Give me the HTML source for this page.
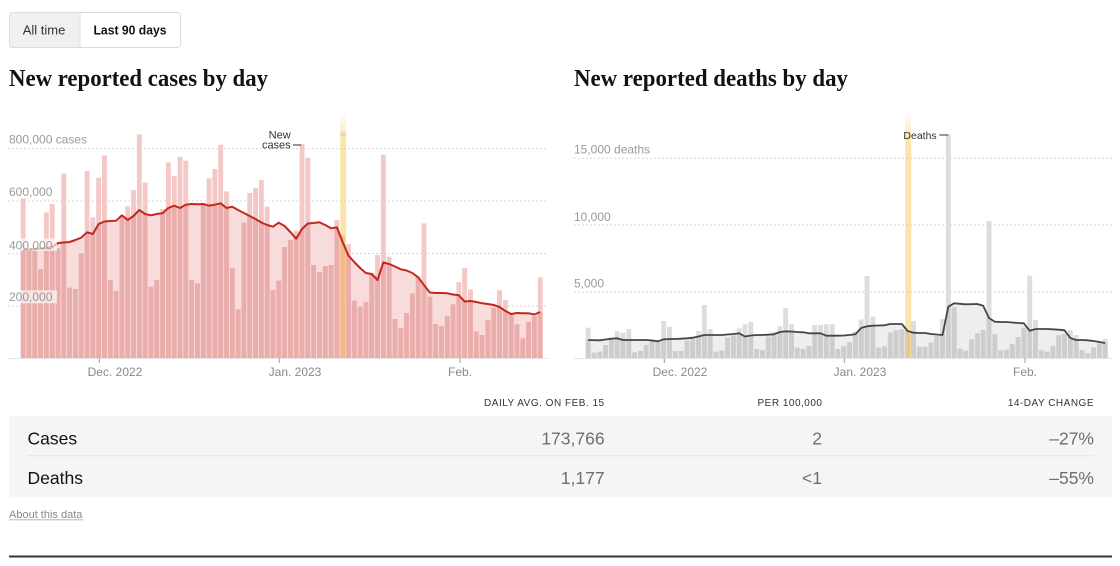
<!DOCTYPE html>
<html><head><meta charset="utf-8"><style>
html,body{margin:0;padding:0;background:#fff;}
svg{display:block;}
.s{font-family:"Liberation Sans",Arial,sans-serif;}
.t{font-family:"Liberation Serif",serif;font-weight:bold;}
</style></head><body>
<svg width="1120" height="566" viewBox="0 0 1120 566" xmlns="http://www.w3.org/2000/svg">
<defs>
<linearGradient id="yg" x1="0" y1="0" x2="0" y2="1">
<stop offset="0" stop-color="#f8c85a" stop-opacity="0"/>
<stop offset="0.11" stop-color="#f8c85a" stop-opacity="0.5"/>
<stop offset="1" stop-color="#f8c85a" stop-opacity="0.5"/>
</linearGradient>
<clipPath id="cc"><polygon transform="translate(23.1 0) scale(5.81 1)" points="-0.42,250 0,250 1,249.5 2,249 3,248.5 4,248 5,247 6,243 7,242.5 8,242 9,240 10,237.7 11,232.3 12,234 13,224 14,221.5 15,221 16,220.7 17,215.3 18,220 19,216 20,210 21,214 22,215.3 23,214 24,213.3 25,208 26,205.7 27,208 28,204.7 29,204 30,204.3 31,204 32,205.7 33,204.7 34,203.3 35,208 36,206.7 37,210 38,213 39,216 40,219 41,222.5 42,225 43,226.7 44,222.7 45,226 46,232 47,238.7 48,229 49,223.5 50,223 51,222.3 52,225 53,228.3 54,227.3 55,242 56,255.7 57,262 58,268 59,273 60,274 61,280 62,262.5 63,264 64,266.5 65,269.3 66,270.5 67,273 68,277.3 69,285 70,292.5 71,293 72,293 73,293.3 74,294.5 75,295.3 76,301.5 77,301 78,302 79,303.3 80,304 81,305 82,307 83,311 84,314 85,313 86,313.2 87,313.3 88,314.5 89,312 89.42,312 89.42,358.3 -0.42,358.3"/></clipPath>
<clipPath id="dc"><polygon transform="translate(588.1 0) scale(5.81 1)" points="-0.42,340 0,340 1,340.2 2,340.3 3,339.5 4,338.7 5,338.3 6,340 7,340 8,340 9,340 10,340 11,340.5 12,341.3 13,339.3 14,339 15,339 16,338.7 17,338.3 18,337.7 19,336.5 20,335 21,335 22,335 23,335 24,334.5 25,334 26,333.3 27,336.5 28,335.5 29,335 30,335 31,334.7 32,334.3 33,332 34,331.3 35,331.5 36,332 37,332.3 38,333.3 39,333.3 40,333.3 41,335.7 42,335.7 43,335.7 44,335.5 45,335 46,334.2 47,328 48,326.3 49,325.7 50,325.5 51,325.3 52,324 53,324 54,324 55,331 56,332.7 57,333 58,333 59,334 60,334.5 61,335 62,306.7 63,303.3 64,303.8 65,304.3 66,304.2 67,304 68,305.7 69,318 70,321.7 71,322 72,322 73,322.5 74,323 75,323.3 76,330.7 77,329 78,329 79,329 80,329.3 81,329.7 82,330.3 83,338 84,340 85,340 86,340.3 87,341 88,342 89,343 89.42,343 89.42,358.3 -0.42,358.3"/></clipPath>
<g id="cb" transform="translate(20.7 110) scale(5.81 0.333333)">
<rect x="0" y="265" width=".84" height="480"/><rect x="1" y="418" width=".84" height="327"/><rect x="2" y="415" width=".84" height="330"/><rect x="3" y="477" width=".84" height="268"/><rect x="4" y="307" width=".84" height="438"/><rect x="5" y="282" width=".84" height="463"/><rect x="6" y="415" width=".84" height="330"/><rect x="7" y="191" width=".84" height="554"/><rect x="8" y="533" width=".84" height="212"/><rect x="9" y="537" width=".84" height="208"/>
<rect x="10" y="430" width=".84" height="315"/><rect x="11" y="183" width=".84" height="562"/><rect x="12" y="322" width=".84" height="423"/><rect x="13" y="203" width=".84" height="542"/><rect x="14" y="136" width=".84" height="609"/><rect x="15" y="510" width=".84" height="235"/><rect x="16" y="543" width=".84" height="202"/><rect x="17" y="318" width=".84" height="427"/><rect x="18" y="289" width=".84" height="456"/><rect x="19" y="240" width=".84" height="505"/>
<rect x="20" y="73" width=".84" height="672"/><rect x="21" y="218" width=".84" height="527"/><rect x="22" y="530" width=".84" height="215"/><rect x="23" y="510" width=".84" height="235"/><rect x="24" y="297" width=".84" height="448"/><rect x="25" y="157" width=".84" height="588"/><rect x="26" y="198" width=".84" height="547"/><rect x="27" y="141" width=".84" height="604"/><rect x="28" y="152" width=".84" height="593"/><rect x="29" y="510" width=".84" height="235"/>
<rect x="30" y="520" width=".84" height="225"/><rect x="31" y="285" width=".84" height="460"/><rect x="32" y="205" width=".84" height="540"/><rect x="33" y="177" width=".84" height="568"/><rect x="34" y="104" width=".84" height="641"/><rect x="35" y="244" width=".84" height="501"/><rect x="36" y="475" width=".84" height="270"/><rect x="37" y="598" width=".84" height="147"/><rect x="38" y="338" width=".84" height="407"/><rect x="39" y="249" width=".84" height="496"/>
<rect x="40" y="234" width=".84" height="511"/><rect x="41" y="210" width=".84" height="535"/><rect x="42" y="290" width=".84" height="455"/><rect x="43" y="540" width=".84" height="205"/><rect x="44" y="512" width=".84" height="233"/><rect x="45" y="411" width=".84" height="334"/><rect x="46" y="390" width=".84" height="355"/><rect x="47" y="362" width=".84" height="383"/><rect x="48" y="102" width=".84" height="643"/><rect x="49" y="143" width=".84" height="602"/>
<rect x="50" y="465" width=".84" height="280"/><rect x="51" y="487" width=".84" height="258"/><rect x="52" y="468" width=".84" height="277"/><rect x="53" y="465" width=".84" height="280"/><rect x="54" y="330" width=".84" height="415"/><rect x="55" y="375" width=".84" height="370"/><rect x="56" y="403" width=".84" height="342"/><rect x="57" y="572" width=".84" height="173"/><rect x="58" y="590" width=".84" height="155"/><rect x="59" y="576" width=".84" height="169"/>
<rect x="60" y="488" width=".84" height="257"/><rect x="61" y="435" width=".84" height="310"/><rect x="62" y="134" width=".84" height="611"/><rect x="63" y="440" width=".84" height="305"/><rect x="64" y="627" width=".84" height="118"/><rect x="65" y="655" width=".84" height="90"/><rect x="66" y="609" width=".84" height="136"/><rect x="67" y="550" width=".84" height="195"/><rect x="68" y="500" width=".84" height="245"/><rect x="69" y="340" width=".84" height="405"/>
<rect x="70" y="560" width=".84" height="185"/><rect x="71" y="642" width=".84" height="103"/><rect x="72" y="648" width=".84" height="97"/><rect x="73" y="618" width=".84" height="127"/><rect x="74" y="583" width=".84" height="162"/><rect x="75" y="516" width=".84" height="229"/><rect x="76" y="474" width=".84" height="271"/><rect x="77" y="538" width=".84" height="207"/><rect x="78" y="665" width=".84" height="80"/><rect x="79" y="675" width=".84" height="70"/>
<rect x="80" y="630" width=".84" height="115"/><rect x="81" y="594" width=".84" height="151"/><rect x="82" y="541" width=".84" height="204"/><rect x="83" y="570" width=".84" height="175"/><rect x="84" y="611" width=".84" height="134"/><rect x="85" y="643" width=".84" height="102"/><rect x="86" y="685" width=".84" height="60"/><rect x="87" y="636" width=".84" height="109"/><rect x="88" y="618" width=".84" height="127"/><rect x="89" y="502" width=".84" height="243"/>
</g>
<g id="db" transform="translate(585.7 110) scale(5.81 0.333333)">
<rect x="0" y="653" width=".84" height="92"/><rect x="1" y="728" width=".84" height="17"/><rect x="2" y="725" width=".84" height="20"/><rect x="3" y="705" width=".84" height="40"/><rect x="4" y="688" width=".84" height="57"/><rect x="5" y="663" width=".84" height="82"/><rect x="6" y="668" width=".84" height="77"/><rect x="7" y="657" width=".84" height="88"/><rect x="8" y="727" width=".84" height="18"/><rect x="9" y="723" width=".84" height="22"/>
<rect x="10" y="705" width=".84" height="40"/><rect x="11" y="688" width=".84" height="57"/><rect x="12" y="690" width=".84" height="55"/><rect x="13" y="633" width=".84" height="112"/><rect x="14" y="650" width=".84" height="95"/><rect x="15" y="723" width=".84" height="22"/><rect x="16" y="723" width=".84" height="22"/><rect x="17" y="692" width=".84" height="53"/><rect x="18" y="685" width=".84" height="60"/><rect x="19" y="663" width=".84" height="82"/>
<rect x="20" y="585" width=".84" height="160"/><rect x="21" y="657" width=".84" height="88"/><rect x="22" y="725" width=".84" height="20"/><rect x="23" y="722" width=".84" height="23"/><rect x="24" y="683" width=".84" height="62"/><rect x="25" y="676" width=".84" height="69"/><rect x="26" y="655" width=".84" height="90"/><rect x="27" y="643" width=".84" height="102"/><rect x="28" y="636" width=".84" height="109"/><rect x="29" y="717" width=".84" height="28"/>
<rect x="30" y="720" width=".84" height="25"/><rect x="31" y="680" width=".84" height="65"/><rect x="32" y="665" width=".84" height="80"/><rect x="33" y="648" width=".84" height="97"/><rect x="34" y="594" width=".84" height="151"/><rect x="35" y="643" width=".84" height="102"/><rect x="36" y="713" width=".84" height="32"/><rect x="37" y="717" width=".84" height="28"/><rect x="38" y="708" width=".84" height="37"/><rect x="39" y="645" width=".84" height="100"/>
<rect x="40" y="645" width=".84" height="100"/><rect x="41" y="643" width=".84" height="102"/><rect x="42" y="642" width=".84" height="103"/><rect x="43" y="717" width=".84" height="28"/><rect x="44" y="709" width=".84" height="36"/><rect x="45" y="697" width=".84" height="48"/><rect x="46" y="664" width=".84" height="81"/><rect x="47" y="628" width=".84" height="117"/><rect x="48" y="498" width=".84" height="247"/><rect x="49" y="620" width=".84" height="125"/>
<rect x="50" y="713" width=".84" height="32"/><rect x="51" y="709" width=".84" height="36"/><rect x="52" y="668" width=".84" height="77"/><rect x="53" y="661" width=".84" height="84"/><rect x="54" y="658" width=".84" height="87"/><rect x="55" y="660" width=".84" height="85"/><rect x="56" y="633" width=".84" height="112"/><rect x="57" y="710" width=".84" height="35"/><rect x="58" y="710" width=".84" height="35"/><rect x="59" y="698" width=".84" height="47"/>
<rect x="60" y="678" width=".84" height="67"/><rect x="61" y="627" width=".84" height="118"/><rect x="62" y="73" width=".84" height="672"/><rect x="63" y="592" width=".84" height="153"/><rect x="64" y="716" width=".84" height="29"/><rect x="65" y="722" width=".84" height="23"/><rect x="66" y="688" width=".84" height="57"/><rect x="67" y="670" width=".84" height="75"/><rect x="68" y="660" width=".84" height="85"/><rect x="69" y="333" width=".84" height="412"/>
<rect x="70" y="673" width=".84" height="72"/><rect x="71" y="721" width=".84" height="24"/><rect x="72" y="719" width=".84" height="26"/><rect x="73" y="702" width=".84" height="43"/><rect x="74" y="681" width=".84" height="64"/><rect x="75" y="653" width=".84" height="92"/><rect x="76" y="497" width=".84" height="248"/><rect x="77" y="630" width=".84" height="115"/><rect x="78" y="721" width=".84" height="24"/><rect x="79" y="725" width=".84" height="20"/>
<rect x="80" y="707" width=".84" height="38"/><rect x="81" y="676" width=".84" height="69"/><rect x="82" y="672" width=".84" height="73"/><rect x="83" y="660" width=".84" height="85"/><rect x="84" y="675" width=".84" height="70"/><rect x="85" y="720" width=".84" height="25"/><rect x="86" y="730" width=".84" height="15"/><rect x="87" y="712" width=".84" height="33"/><rect x="88" y="700" width=".84" height="45"/><rect x="89" y="687" width=".84" height="58"/>
</g>
</defs>

<!-- Buttons -->
<rect x="9.5" y="12.5" width="171" height="35" rx="3" fill="#fff" stroke="#dcdcdc"/>
<path d="M12.5 13 H80 V47 H12.5 A3 3 0 0 1 10 44 V16 A3 3 0 0 1 12.5 13 Z" fill="#f0f0f0"/>
<line x1="80" y1="13" x2="80" y2="47" stroke="#e2e2e2"/>
<text class="s" x="44" y="34.5" font-size="13" fill="#333" text-anchor="middle">All time</text>
<text class="s" x="130" y="34.5" font-size="12.5" font-weight="bold" fill="#121212" text-anchor="middle" textLength="73" lengthAdjust="spacingAndGlyphs">Last 90 days</text>

<!-- Titles -->
<text class="t" x="9" y="86" font-size="24" fill="#121212" textLength="259" lengthAdjust="spacingAndGlyphs">New reported cases by day</text>
<text class="t" x="574" y="86" font-size="24" fill="#121212" textLength="274" lengthAdjust="spacingAndGlyphs">New reported deaths by day</text>

<!-- Cases chart -->
<g stroke="#d9d9d9" stroke-width="1" stroke-dasharray="2 2">
<line x1="8" y1="148.7" x2="547" y2="148.7"/>
<line x1="8" y1="201" x2="547" y2="201"/>
<line x1="8" y1="253.5" x2="547" y2="253.5"/>
<line x1="8" y1="306" x2="547" y2="306"/>
</g>
<polygon transform="translate(23.1 0) scale(5.81 1)" fill="#f8dcdb" points="-0.42,250 0,250 1,249.5 2,249 3,248.5 4,248 5,247 6,243 7,242.5 8,242 9,240 10,237.7 11,232.3 12,234 13,224 14,221.5 15,221 16,220.7 17,215.3 18,220 19,216 20,210 21,214 22,215.3 23,214 24,213.3 25,208 26,205.7 27,208 28,204.7 29,204 30,204.3 31,204 32,205.7 33,204.7 34,203.3 35,208 36,206.7 37,210 38,213 39,216 40,219 41,222.5 42,225 43,226.7 44,222.7 45,226 46,232 47,238.7 48,229 49,223.5 50,223 51,222.3 52,225 53,228.3 54,227.3 55,242 56,255.7 57,262 58,268 59,273 60,274 61,280 62,262.5 63,264 64,266.5 65,269.3 66,270.5 67,273 68,277.3 69,285 70,292.5 71,293 72,293 73,293.3 74,294.5 75,295.3 76,301.5 77,301 78,302 79,303.3 80,304 81,305 82,307 83,311 84,314 85,313 86,313.2 87,313.3 88,314.5 89,312 89.42,312 89.42,358.3 -0.42,358.3"/>
<use href="#cb" fill="#f3c8c6"/>
<g clip-path="url(#cc)"><use href="#cb" fill="#e9adab"/></g>
<rect x="340.3" y="113" width="5.8" height="245.3" fill="url(#yg)"/>
<rect x="340.3" y="132.8" width="5.8" height="0.8" fill="#c8c8c8"/>
<rect x="340.3" y="134.8" width="5.8" height="0.8" fill="#c8c8c8"/>
<polyline transform="translate(23.1 0) scale(5.81 1)" vector-effect="non-scaling-stroke" fill="none" stroke="#c4281d" stroke-width="2" stroke-linejoin="round" points="0,250 1,249.5 2,249 3,248.5 4,248 5,247 6,243 7,242.5 8,242 9,240 10,237.7 11,232.3 12,234 13,224 14,221.5 15,221 16,220.7 17,215.3 18,220 19,216 20,210 21,214 22,215.3 23,214 24,213.3 25,208 26,205.7 27,208 28,204.7 29,204 30,204.3 31,204 32,205.7 33,204.7 34,203.3 35,208 36,206.7 37,210 38,213 39,216 40,219 41,222.5 42,225 43,226.7 44,222.7 45,226 46,232 47,238.7 48,229 49,223.5 50,223 51,222.3 52,225 53,228.3 54,227.3 55,242 56,255.7 57,262 58,268 59,273 60,274 61,280 62,262.5 63,264 64,266.5 65,269.3 66,270.5 67,273 68,277.3 69,285 70,292.5 71,293 72,293 73,293.3 74,294.5 75,295.3 76,301.5 77,301 78,302 79,303.3 80,304 81,305 82,307 83,311 84,314 85,313 86,313.2 87,313.3 88,314.5 89,312"/>
<line x1="8" y1="358.5" x2="547" y2="358.5" stroke="#e3e3e3" stroke-width="1"/>
<rect x="8" y="238.3" width="49" height="12.6" fill="#fff" fill-opacity="0.65"/>
<rect x="8" y="290.3" width="49" height="13" fill="#fff" fill-opacity="0.65"/>
<g class="s" font-size="12" fill="#9a9a9a">
<text x="9" y="143.3">800,000 cases</text>
<text x="9" y="196">600,000</text>
<text x="9" y="249.3">400,000</text>
<text x="9" y="301">200,000</text>
</g>
<g stroke="#999" stroke-width="1">
<line x1="99.3" y1="358.5" x2="99.3" y2="363"/>
<line x1="279.3" y1="358.5" x2="279.3" y2="363"/>
<line x1="460" y1="358.5" x2="460" y2="363"/>
</g>
<g class="s" font-size="12" fill="#888" text-anchor="middle">
<text x="115" y="376">Dec. 2022</text>
<text x="295" y="376">Jan. 2023</text>
<text x="460" y="376">Feb.</text>
</g>
<g class="s" font-size="11" fill="#333" text-anchor="end">
<text x="290.7" y="138.3">New</text>
<text x="290.7" y="148.5">cases</text>
</g>
<line x1="293" y1="145" x2="301" y2="145" stroke="#333" stroke-width="1"/>

<!-- Deaths chart -->
<g stroke="#d9d9d9" stroke-width="1" stroke-dasharray="2 2">
<line x1="574" y1="158.3" x2="1112" y2="158.3"/>
<line x1="574" y1="225" x2="1112" y2="225"/>
<line x1="574" y1="292.3" x2="1112" y2="292.3"/>
</g>
<polygon transform="translate(588.1 0) scale(5.81 1)" fill="#eeeeee" points="-0.42,340 0,340 1,340.2 2,340.3 3,339.5 4,338.7 5,338.3 6,340 7,340 8,340 9,340 10,340 11,340.5 12,341.3 13,339.3 14,339 15,339 16,338.7 17,338.3 18,337.7 19,336.5 20,335 21,335 22,335 23,335 24,334.5 25,334 26,333.3 27,336.5 28,335.5 29,335 30,335 31,334.7 32,334.3 33,332 34,331.3 35,331.5 36,332 37,332.3 38,333.3 39,333.3 40,333.3 41,335.7 42,335.7 43,335.7 44,335.5 45,335 46,334.2 47,328 48,326.3 49,325.7 50,325.5 51,325.3 52,324 53,324 54,324 55,331 56,332.7 57,333 58,333 59,334 60,334.5 61,335 62,306.7 63,303.3 64,303.8 65,304.3 66,304.2 67,304 68,305.7 69,318 70,321.7 71,322 72,322 73,322.5 74,323 75,323.3 76,330.7 77,329 78,329 79,329 80,329.3 81,329.7 82,330.3 83,338 84,340 85,340 86,340.3 87,341 88,342 89,343 89.42,343 89.42,358.3 -0.42,358.3"/>
<use href="#db" fill="#dddddd"/>
<g clip-path="url(#dc)"><use href="#db" fill="#cdcdcd"/></g>
<rect x="905.3" y="113" width="5.8" height="245.3" fill="url(#yg)"/>
<polyline transform="translate(588.1 0) scale(5.81 1)" vector-effect="non-scaling-stroke" fill="none" stroke="#464646" stroke-width="1.8" stroke-linejoin="round" points="0,340 1,340.2 2,340.3 3,339.5 4,338.7 5,338.3 6,340 7,340 8,340 9,340 10,340 11,340.5 12,341.3 13,339.3 14,339 15,339 16,338.7 17,338.3 18,337.7 19,336.5 20,335 21,335 22,335 23,335 24,334.5 25,334 26,333.3 27,336.5 28,335.5 29,335 30,335 31,334.7 32,334.3 33,332 34,331.3 35,331.5 36,332 37,332.3 38,333.3 39,333.3 40,333.3 41,335.7 42,335.7 43,335.7 44,335.5 45,335 46,334.2 47,328 48,326.3 49,325.7 50,325.5 51,325.3 52,324 53,324 54,324 55,331 56,332.7 57,333 58,333 59,334 60,334.5 61,335 62,306.7 63,303.3 64,303.8 65,304.3 66,304.2 67,304 68,305.7 69,318 70,321.7 71,322 72,322 73,322.5 74,323 75,323.3 76,330.7 77,329 78,329 79,329 80,329.3 81,329.7 82,330.3 83,338 84,340 85,340 86,340.3 87,341 88,342 89,343"/>
<line x1="574" y1="358.5" x2="1112" y2="358.5" stroke="#e3e3e3" stroke-width="1"/>
<g class="s" font-size="12" fill="#9a9a9a">
<text x="574" y="153.6">15,000 deaths</text>
<text x="574" y="221">10,000</text>
<text x="574" y="287.6">5,000</text>
</g>
<g stroke="#999" stroke-width="1">
<line x1="664.3" y1="358.5" x2="664.3" y2="363"/>
<line x1="844.3" y1="358.5" x2="844.3" y2="363"/>
<line x1="1025" y1="358.5" x2="1025" y2="363"/>
</g>
<g class="s" font-size="12" fill="#888" text-anchor="middle">
<text x="680" y="376">Dec. 2022</text>
<text x="860" y="376">Jan. 2023</text>
<text x="1025" y="376">Feb.</text>
</g>
<text class="s" x="936.7" y="139" font-size="10.5" fill="#333" text-anchor="end">Deaths</text>
<line x1="939.3" y1="135" x2="948.3" y2="135" stroke="#333" stroke-width="1"/>

<!-- Table -->
<g class="s" font-size="10" fill="#333" text-anchor="end" letter-spacing="0.5">
<text x="604.6" y="406">DAILY AVG. ON FEB. 15</text>
<text x="822.5" y="406">PER 100,000</text>
<text x="1094" y="406">14-DAY CHANGE</text>
</g>
<rect x="9" y="416" width="1103" height="80.7" fill="#f5f5f5"/>
<line x1="27.5" y1="455.8" x2="1094" y2="455.8" stroke="#e3e3e3" stroke-width="1"/>
<g class="s" font-size="17.5" fill="#121212">
<text x="27.5" y="444.5">Cases</text>
<text x="27.5" y="484">Deaths</text>
</g>
<g class="s" font-size="17.5" fill="#6e6e6e" text-anchor="end">
<text x="604.6" y="444.5">173,766</text>
<text x="822" y="444.5">2</text>
<text x="1094" y="444.5">–27%</text>
<text x="604.6" y="484">1,177</text>
<text x="822" y="484">&lt;1</text>
<text x="1094" y="484">–55%</text>
</g>
<text class="s" x="9" y="518" font-size="11" fill="#888">About this data</text>
<line x1="9" y1="519.8" x2="83" y2="519.8" stroke="#aaa" stroke-width="0.8"/>
<rect x="9" y="555.5" width="1103" height="2" fill="#333"/>
</svg>
</body></html>
